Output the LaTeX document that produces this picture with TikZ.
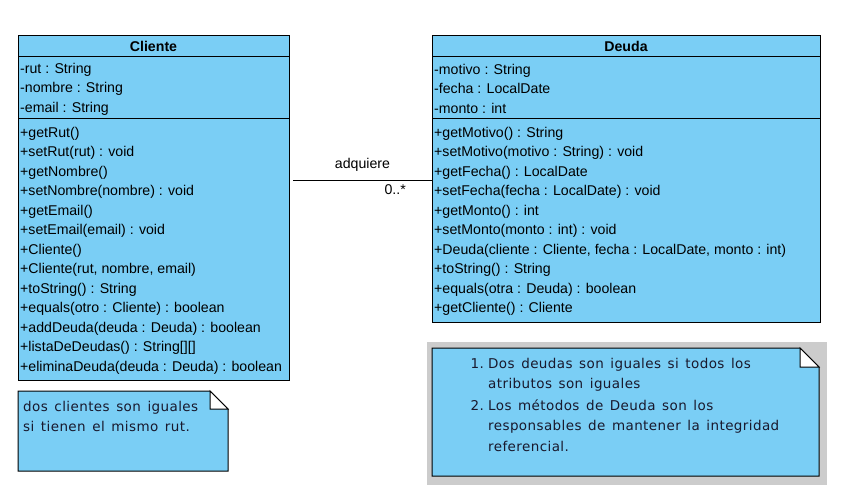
\documentclass[tikz,border=0pt]{standalone}
\usepackage{fontspec}
\setmainfont{Liberation Sans}
\newfontfamily\notefont[LetterSpace=3,WordSpace=1.4]{DejaVu Sans}
\definecolor{classblue}{RGB}{122,206,245}
\definecolor{notegray}{RGB}{204,204,204}
\definecolor{notetextcol}{RGB}{25,25,45}

\begin{document}
\begin{tikzpicture}[x=1pt, y=-1pt,
    box/.style={draw, fill=classblue, line width=1pt},
    member/.style={anchor=base west, inner sep=0pt, font=\fontsize{14.15}{16}\selectfont},
    classtitle/.style={anchor=base, inner sep=0pt, font=\fontsize{14.15}{16}\selectfont\bfseries},
    notetext/.style={anchor=base west, inner sep=0pt, text=notetextcol,
        font=\notefont\fontsize{13.5}{15}\selectfont}]

    \useasboundingbox (0,0) rectangle (850,501);

    % --- Coordinates ---
    % Height of the association line
    \coordinate (asoc) at (0,180.5);

    % --- Class Cliente ---
    \node[box, anchor=north west, inner sep=0pt, minimum width=271pt, minimum height=345pt] (cliente) at (18,35) {};
    \draw[line width=1pt] (18,56) -- (289,56);
    \draw[line width=1pt] (18,118.5) -- (289,118.5);
    \node[classtitle] (clienteName) at (153.5,51) {Cliente};

    % attributes
    \node[member] (cRut) at (20,73) {-rut : String};
    \node[member] (cNombre) at (20,92.5) {-nombre : String};
    \node[member] (cEmail) at (20,112) {-email : String};

    % operations
    \node[member] (cGetRut) at (20,137) {+getRut()};
    \node[member] (cSetRut) at (20,156.5) {+setRut(rut) : void};
    \node[member] (cGetNombre) at (20,176) {+getNombre()};
    \node[member] (cSetNombre) at (20,195.5) {+setNombre(nombre) : void};
    \node[member] (cGetEmail) at (20,215) {+getEmail()};
    \node[member] (cSetEmail) at (20,234.5) {+setEmail(email) : void};
    \node[member] (cCons) at (20,254) {+Cliente()};
    \node[member] (cConsFull) at (20,273.5) {+Cliente(rut, nombre, email)};
    \node[member] (cToString) at (20,293) {+toString() : String};
    \node[member] (cEquals) at (20,312.5) {+equals(otro : Cliente) : boolean};
    \node[member] (cAddDeuda) at (20,332) {+addDeuda(deuda : Deuda) : boolean};
    \node[member] (cLista) at (20,351.5) {+listaDeDeudas() : String[][]};
    \node[member] (cElimina) at (20,371) {+eliminaDeuda(deuda : Deuda) : boolean};

    % --- Class Deuda ---
    \node[box, anchor=north west, inner sep=0pt, minimum width=388pt, minimum height=287pt] (deuda) at (432,35) {};
    \draw[line width=1pt] (432,56) -- (820,56);
    \draw[line width=1pt] (432,118.5) -- (820,118.5);
    \node[classtitle] (deudaName) at (626,51) {Deuda};

    % attributes
    \node[member] (dMotivo) at (434,74) {-motivo : String};
    \node[member] (dFecha) at (434,93.5) {-fecha : LocalDate};
    \node[member] (dMonto) at (434,113) {-monto : int};

    % operations
    \node[member] (dGetMotivo) at (434,137) {+getMotivo() : String};
    \node[member] (dSetMotivo) at (434,156.5) {+setMotivo(motivo : String) : void};
    \node[member] (dGetFecha) at (434,176) {+getFecha() : LocalDate};
    \node[member] (dSetFecha) at (434,195.5) {+setFecha(fecha : LocalDate) : void};
    \node[member] (dGetMonto) at (434,215) {+getMonto() : int};
    \node[member] (dSetMonto) at (434,234.5) {+setMonto(monto : int) : void};
    \node[member] (dCons) at (434,254) {+Deuda(cliente : Cliente, fecha : LocalDate, monto : int)};
    \node[member] (dToString) at (434,273.5) {+toString() : String};
    \node[member] (dEquals) at (434,293) {+equals(otra : Deuda) : boolean};
    \node[member] (dGetCliente) at (434,312.5) {+getCliente() : Cliente};

    % --- Association adquiere ---
    \draw[line width=1pt, shorten <=3pt] (cliente.east |- asoc) -- (deuda.west |- asoc);
    \node[anchor=base, inner sep=0pt, font=\fontsize{14.15}{16}\selectfont] (adquiere) at (362.5,168) {adquiere};
    \node[anchor=base east, inner sep=0pt, font=\fontsize{14.15}{16}\selectfont] (mult) at (406,194) {0..*};

    % --- Note on Cliente ---
    \draw[box] (18,391) -- (210,391) -- (228,409) -- (228,471) -- (18,471) -- cycle;
    \draw[line width=1pt, fill=white] (210,391) -- (210,409) -- (228,409) -- cycle;
    \node[notetext] (noteC1) at (23,411) {dos clientes son iguales};
    \node[notetext] (noteC2) at (23,431) {si tienen el mismo rut.};

    % --- Note on Deuda (grey frame) ---
    \fill[notegray] (427,342) rectangle (827,485);
    \draw[box] (432,348) -- (800,348) -- (819,367) -- (819,476) -- (432,476) -- cycle;
    \draw[line width=1pt, fill=white] (800,348) -- (800,367) -- (819,367) -- cycle;
    \node[notetext, anchor=base east] (noteD1n) at (484,368) {1.};
    \node[notetext] (noteD1a) at (488,368) {Dos deudas son iguales si todos los};
    \node[notetext] (noteD1b) at (488,388) {atributos son iguales};
    \node[notetext, anchor=base east] (noteD2n) at (484,410) {2.};
    \node[notetext] (noteD2a) at (488,410) {Los métodos de Deuda son los};
    \node[notetext] (noteD2b) at (488,430) {responsables de mantener la integridad};
    \node[notetext] (noteD2c) at (488,451) {referencial.};

\end{tikzpicture}
\end{document}
